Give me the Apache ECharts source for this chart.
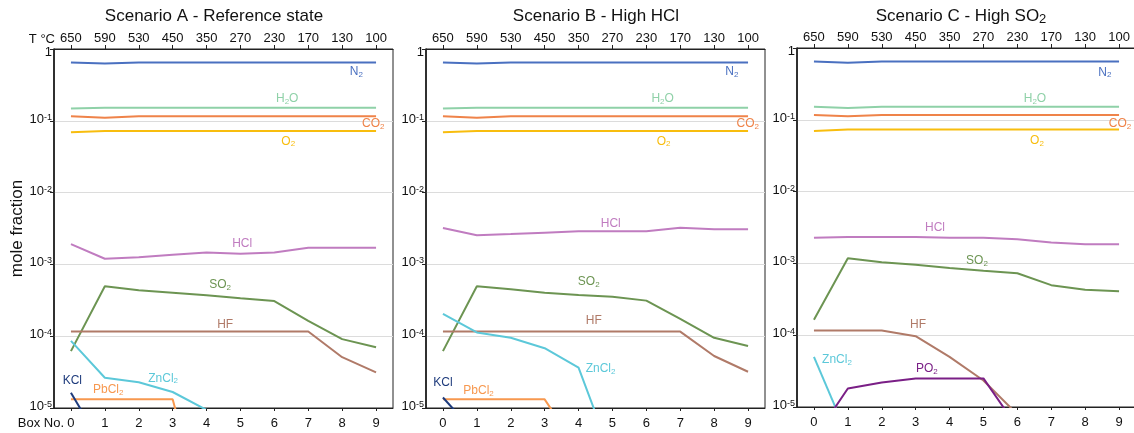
<!DOCTYPE html>
<html>
<head>
<meta charset="utf-8">
<script src="https://cdn.jsdelivr.net/npm/echarts@6/dist/echarts.min.js"></script>
<style>
  html, body { margin: 0; padding: 0; background: #fff; }
  #chart { width: 1134px; height: 433px; }
</style>
</head>
<body>
<div id="chart"></div>
<script>
const FONT = '"Liberation Sans", Arial, Helvetica, sans-serif';

// Axes
const boxNo = [0, 1, 2, 3, 4, 5, 6, 7, 8, 9];
const tempC = ['650', '590', '530', '450', '350', '270', '230', '170', '130', '100'];

// Scenario A - reference state (mole fractions per box)
const aN2    = [0.65, 0.63, 0.65, 0.65, 0.65, 0.65, 0.65, 0.65, 0.65, 0.65];
const aH2O   = [0.148, 0.152, 0.152, 0.152, 0.152, 0.152, 0.152, 0.152, 0.152, 0.152];
const aCO2   = [0.116, 0.110, 0.116, 0.116, 0.116, 0.116, 0.116, 0.116, 0.116, 0.116];
const aO2    = [0.069, 0.072, 0.072, 0.072, 0.072, 0.072, 0.072, 0.072, 0.072, 0.072];
const aHCl   = [1.92e-3, 1.20e-3, 1.26e-3, 1.36e-3, 1.47e-3, 1.41e-3, 1.47e-3, 1.71e-3, 1.71e-3, 1.71e-3];
const aSO2   = [6.2e-5, 4.96e-4, 4.36e-4, 4.03e-4, 3.71e-4, 3.37e-4, 3.09e-4, 1.64e-4, 9.1e-5, 7.0e-5];
const aHF    = [1.16e-4, 1.16e-4, 1.16e-4, 1.16e-4, 1.16e-4, 1.16e-4, 1.16e-4, 1.16e-4, 5.1e-5, 3.14e-5];
const aZnCl2 = [8.6e-5, 2.64e-5, 2.28e-5, 1.67e-5, 9.4e-6];
const aPbCl2 = [1.32e-5, 1.32e-5, 1.32e-5, 1.32e-5, 2.5e-7];
const aKCl   = [1.63e-5, 2.6e-6];

// Scenario B - high HCl
const bN2    = [0.65, 0.63, 0.65, 0.65, 0.65, 0.65, 0.65, 0.65, 0.65, 0.65];
const bH2O   = [0.148, 0.152, 0.152, 0.152, 0.152, 0.152, 0.152, 0.152, 0.152, 0.152];
const bCO2   = [0.116, 0.110, 0.116, 0.116, 0.116, 0.116, 0.116, 0.116, 0.116, 0.116];
const bO2    = [0.069, 0.072, 0.072, 0.072, 0.072, 0.072, 0.072, 0.072, 0.072, 0.072];
const bHCl   = [3.21e-3, 2.54e-3, 2.65e-3, 2.77e-3, 2.89e-3, 2.89e-3, 2.89e-3, 3.25e-3, 3.08e-3, 3.08e-3];
const bSO2   = [6.2e-5, 4.96e-4, 4.5e-4, 4.03e-4, 3.75e-4, 3.55e-4, 3.13e-4, 1.74e-4, 9.5e-5, 7.3e-5];
const bHF    = [1.16e-4, 1.16e-4, 1.16e-4, 1.16e-4, 1.16e-4, 1.16e-4, 1.16e-4, 1.16e-4, 5.3e-5, 3.2e-5];
const bZnCl2 = [2.04e-4, 1.13e-4, 9.5e-5, 6.8e-5, 3.65e-5, 2.0e-6];
const bPbCl2 = [1.32e-5, 1.32e-5, 1.32e-5, 1.32e-5, 2.6e-6];
const bKCl   = [1.4e-5, 4.2e-6];

// Scenario C - high SO2
const cN2    = [0.65, 0.625, 0.65, 0.65, 0.65, 0.65, 0.65, 0.65, 0.65, 0.65];
const cH2O   = [0.152, 0.146, 0.152, 0.152, 0.152, 0.152, 0.152, 0.152, 0.152, 0.152];
const cCO2   = [0.117, 0.112, 0.117, 0.117, 0.117, 0.117, 0.117, 0.117, 0.117, 0.117];
const cO2    = [0.070, 0.073, 0.073, 0.073, 0.073, 0.073, 0.073, 0.073, 0.073, 0.073];
const cHCl   = [2.27e-3, 2.34e-3, 2.34e-3, 2.34e-3, 2.27e-3, 2.27e-3, 2.17e-3, 1.95e-3, 1.85e-3, 1.85e-3];
const cSO2   = [1.64e-4, 1.18e-3, 1.04e-3, 9.6e-4, 8.6e-4, 7.9e-4, 7.3e-4, 4.98e-4, 4.28e-4, 4.1e-4];
const cHF    = [1.16e-4, 1.16e-4, 1.16e-4, 9.7e-5, 5.0e-5, 2.34e-5, 7.9e-6];
const cZnCl2 = [5.0e-5, 3.9e-6];
const cPO2   = [3.6e-6, 1.81e-5, 2.2e-5, 2.5e-5, 2.5e-5, 2.5e-5, 5.2e-6];

// Species colours
const colors = {
  N2: '#4a70c0', H2O: '#8fd1a8', CO2: '#ef8349', O2: '#f8bd0e', HCl: '#c07cc0',
  SO2: '#6c9452', HF: '#b07a68', ZnCl2: '#5cc8d9', PbCl2: '#f7984f', KCl: '#1e3b7c', PO2: '#7a1f86'
};

// In-plot species labels: [species, box position, mole fraction]
const labelsA = [
  ['N2', 8.42, 0.48], ['H2O', 6.38, 0.20], ['CO2', 8.92, 0.090], ['O2', 6.41, 0.052],
  ['HCl', 5.05, 1.92e-3], ['SO2', 4.4, 5.2e-4], ['HF', 4.55, 1.43e-4],
  ['ZnCl2', 2.72, 2.6e-5], ['PbCl2', 1.1, 1.78e-5], ['KCl', 0.04, 2.4e-5]
];
const labelsB = [
  ['N2', 8.52, 0.48], ['H2O', 6.48, 0.20], ['CO2', 8.99, 0.090], ['O2', 6.51, 0.052],
  ['HCl', 4.95, 3.65e-3], ['SO2', 4.3, 5.7e-4], ['HF', 4.45, 1.63e-4],
  ['ZnCl2', 4.65, 3.5e-5], ['PbCl2', 1.05, 1.72e-5], ['KCl', 0.0, 2.23e-5]
];
const labelsC = [
  ['N2', 8.58, 0.46], ['H2O', 6.52, 0.195], ['CO2', 9.03, 0.0875], ['O2', 6.58, 0.051],
  ['HCl', 3.57, 3.1e-3], ['SO2', 4.81, 1.08e-3], ['HF', 3.07, 1.40e-4],
  ['ZnCl2', 0.68, 4.5e-5], ['PO2', 3.33, 3.4e-5]
];

const panels = [
  {
    title: 'Scenario A - Reference state', titleX: 214, titleTop: 8, left: 54, top: 49,
    series: [['N2', aN2], ['H2O', aH2O], ['CO2', aCO2], ['O2', aO2], ['HCl', aHCl], ['SO2', aSO2],
             ['HF', aHF], ['ZnCl2', aZnCl2], ['PbCl2', aPbCl2], ['KCl', aKCl]],
    labels: labelsA
  },
  {
    title: 'Scenario B - High HCl', titleX: 596, titleTop: 8, left: 426, top: 49,
    series: [['N2', bN2], ['H2O', bH2O], ['CO2', bCO2], ['O2', bO2], ['HCl', bHCl], ['SO2', bSO2],
             ['HF', bHF], ['ZnCl2', bZnCl2], ['PbCl2', bPbCl2], ['KCl', bKCl]],
    labels: labelsB
  },
  {
    title: '{t|Scenario C - High SO}{s|2}', titleX: 961, titleTop: 6, left: 797, top: 48,
    series: [['N2', cN2], ['H2O', cH2O], ['CO2', cCO2], ['O2', cO2], ['HCl', cHCl], ['SO2', cSO2],
             ['HF', cHF], ['ZnCl2', cZnCl2], ['PO2', cPO2]],
    labels: labelsC
  }
];

// Chemical formula -> rich text with subscript digits
function chem(name) {
  return name.replace(/([A-Za-z]+)|(\d+)/g, (m, a, d) => a ? '{m|' + a + '}' : '{s|' + d + '}');
}

function labelRich(color) {
  return {
    m: { fontSize: 12, fontFamily: FONT, color: color, lineHeight: 14 },
    s: { fontSize: 8, fontFamily: FONT, color: color, lineHeight: 7, verticalAlign: 'bottom' }
  };
}

const PLOT_W = 339, PLOT_H = 359;
const INK = '#111';

const grids = [], xAxes = [], yAxes = [], series = [], titles = [];

panels.forEach((p, i) => {
  titles.push({
    text: p.title, left: p.titleX, top: p.titleTop, textAlign: 'center', padding: 0,
    textStyle: {
      fontSize: 17, fontWeight: 'normal', color: INK, fontFamily: FONT,
      rich: {
        t: { fontSize: 17, fontFamily: FONT, color: INK, lineHeight: 20 },
        s: { fontSize: 13, fontFamily: FONT, color: INK, lineHeight: 16, verticalAlign: 'bottom' }
      }
    }
  });

  grids.push({
    left: p.left, top: p.top, width: PLOT_W, height: PLOT_H,
    show: true, borderColor: '#222', borderWidth: 1, backgroundColor: 'transparent',
    containLabel: false, outerBoundsMode: 'none'
  });

  // Box number axis (bottom)
  xAxes.push({
    type: 'value', gridIndex: i, position: 'bottom', min: -0.5, max: 9.5,
    axisLine: { show: true, onZero: false, lineStyle: { color: '#222', width: 1 } },
    axisTick: { show: true, length: 3, customValues: boxNo, lineStyle: { color: '#222' } },
    axisLabel: {
      customValues: boxNo, margin: 9, fontSize: 13, color: INK, fontFamily: FONT,
      formatter: v => String(v)
    },
    splitLine: { show: false }
  });
  // Temperature axis (top)
  xAxes.push({
    type: 'value', gridIndex: i, position: 'top', min: -0.5, max: 9.5,
    axisLine: { show: true, onZero: false, lineStyle: { color: '#222', width: 1 } },
    axisTick: { show: true, length: 4, customValues: boxNo, lineStyle: { color: '#222' } },
    axisLabel: {
      customValues: boxNo, margin: 4, fontSize: 13, color: INK, fontFamily: FONT,
      formatter: v => tempC[Math.round(v)]
    },
    splitLine: { show: false }
  });

  yAxes.push({
    type: 'log', logBase: 10, gridIndex: i, min: 1e-5, max: 1,
    name: i === 0 ? 'mole fraction' : '',
    nameLocation: 'middle', nameGap: 27,
    nameTextStyle: { fontSize: 17, color: INK, fontFamily: FONT },
    axisLine: { show: true, onZero: false, lineStyle: { color: '#111', width: 1.5 } },
    axisTick: { show: true, length: 4, lineStyle: { color: '#222' } },
    minorTick: { show: false },
    axisLabel: {
      margin: 2, color: INK, fontFamily: FONT,
      formatter: v => {
        const e = Math.round(Math.log10(v));
        return e === 0 ? '{o|1}' : '{b|10}{s|' + e + '}';
      },
      rich: {
        o: { fontSize: 13, fontFamily: FONT, color: INK, lineHeight: 16, padding: [6, 0, 0, 0] },
        b: { fontSize: 13, fontFamily: FONT, color: INK, lineHeight: 16, padding: [0, 0, 3, 0] },
        s: { fontSize: 9, fontFamily: FONT, color: INK, lineHeight: 9, verticalAlign: 'top' }
      }
    },
    splitLine: { show: true, lineStyle: { color: '#dcdcdc', width: 1 } }
  });

  p.series.forEach(([sp, values]) => {
    const color = colors[sp];
    const lab = p.labels.find(l => l[0] === sp);
    series.push({
      type: 'line', name: sp, xAxisIndex: 2 * i, yAxisIndex: i,
      data: values.map((v, k) => [boxNo[k], v]),
      showSymbol: false, symbol: 'none', clip: true, silent: true,
      lineStyle: { color: color, width: 2 },
      markPoint: lab ? {
        symbol: 'circle', symbolSize: 0, silent: true,
        label: {
          show: true, position: 'inside', formatter: chem(sp), color: color,
          rich: labelRich(color)
        },
        data: [{ coord: [lab[1], lab[2]] }]
      } : undefined
    });
  });
});

const chart = echarts.init(document.getElementById('chart'));
chart.setOption({
  animation: false,
  textStyle: { fontFamily: FONT },
  title: titles,
  grid: grids,
  xAxis: xAxes,
  yAxis: yAxes,
  series: series,
  graphic: [
    {
      type: 'text', x: 55, y: 39,
      style: { text: 'T °C', font: '13px ' + FONT, fill: INK, textAlign: 'right', textVerticalAlign: 'middle' }
    },
    {
      type: 'text', x: 64, y: 423,
      style: { text: 'Box No.', font: '13px ' + FONT, fill: INK, textAlign: 'right', textVerticalAlign: 'middle' }
    }
  ]
});
</script>
</body>
</html>
